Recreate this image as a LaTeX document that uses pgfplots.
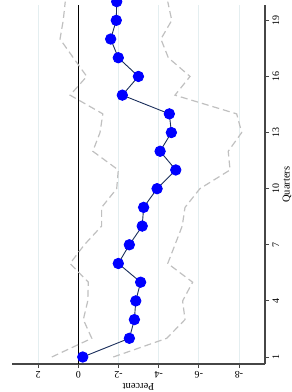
\documentclass[border=0pt]{standalone}
\usepackage{pgfplots}
\usepackage{pgfplotstable}
\pgfplotsset{compat=1.18}
\usepackage{fontspec}
\setmainfont{Liberation Serif}
\definecolor{gridc}{RGB}{228,238,240}
\definecolor{bandc}{RGB}{192,192,192}
\definecolor{navyc}{RGB}{26,46,92}
\definecolor{axc}{RGB}{70,70,70}
\pgfplotstableread{
q v hi lo
1 -0.22 1.32 -1.74
2 -2.54 -0.67 -4.40
3 -2.79 -0.25 -5.31
4 -2.86 -0.47 -5.19
5 -3.10 -0.50 -5.69
6 -1.99 0.41 -4.45
7 -2.54 -0.30 -4.81
8 -3.18 -1.16 -5.17
9 -3.25 -1.16 -5.31
10 -3.92 -1.91 -6.05
11 -4.85 -1.99 -7.55
12 -4.07 -0.72 -7.46
13 -4.63 -1.08 -8.13
14 -4.53 -1.22 -7.88
15 -2.19 0.41 -4.81
16 -2.99 -0.42 -5.56
17 -1.99 0.25 -4.48
18 -1.61 0.91 -4.11
19 -1.89 0.75 -4.65
20 -1.91 0.65 -4.45
}\data
\begin{document}
\begin{tikzpicture}
\useasboundingbox (-12pt,-28pt) rectangle (280pt,364pt);
\begin{axis}[
  at={(0pt,0pt)}, anchor=south west,
  scale only axis, width=253pt, height=359pt,
  x dir=reverse,
  xmin=-9.29, xmax=3.30,
  ymin=0.626, ymax=19.82,
  clip=false,
  axis x line*=bottom, axis y line*=right,
  axis line style={axc, line width=1.1pt},
  xtick={-8,-6,-4,-2,0,2},
  xticklabels={-8,-6,-4,-2,0,2},
  ytick={1,4,7,10,13,16,19},
  yticklabels={1,4,7,10,13,16,19},
  tick style={axc, line width=0.8pt},
  tick align=outside,
  major tick length=4pt,
  xticklabel style={rotate=180, anchor=south, font=\fontsize{10}{12}\selectfont},
  yticklabel style={rotate=90, anchor=north, font=\fontsize{10}{12}\selectfont},
  xmajorgrids, grid style={gridc, line width=0.8pt},
  xlabel={Percent},
  every axis x label/.style={at={(axis description cs:0.5,-0.0627)}, anchor=center, rotate=180, font=\fontsize{10.5}{12}\selectfont},
]
\addplot[black, line width=0.9pt] coordinates {(0,0.626) (0,19.82)};
\addplot[bandc, line width=1.2pt, dash pattern=on 7pt off 4pt] table[x=hi, y=q] {\data};
\addplot[bandc, line width=1.2pt, dash pattern=on 7pt off 4pt] table[x=lo, y=q] {\data};
\addplot[navyc, line width=0.9pt, mark=*, mark size=5.2pt, mark options={fill=blue, draw=blue, solid}] table[x=v, y=q] {\data};
\node[rotate=90, anchor=center, font=\fontsize{10.5}{12}\selectfont] at (axis cs:-10.38,10.22) {Quarters};
\end{axis}
\end{tikzpicture}
\end{document}
